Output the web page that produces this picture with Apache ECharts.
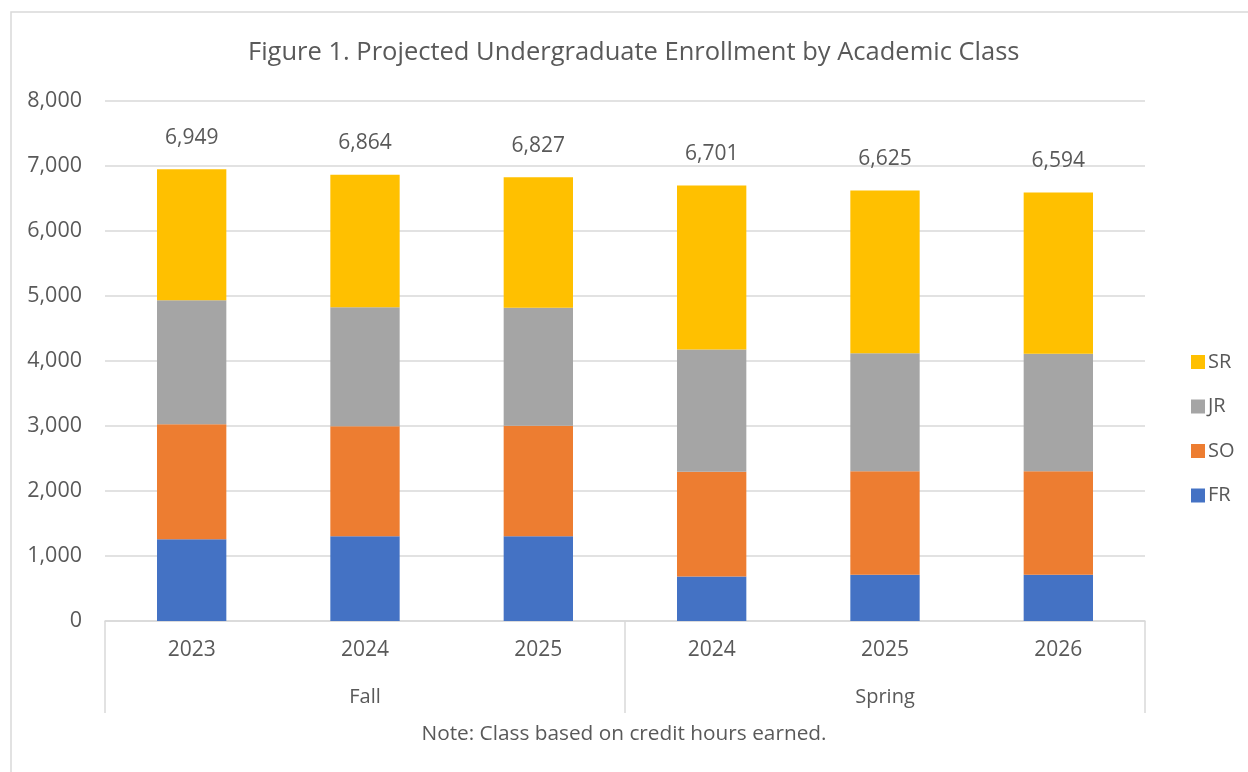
<!DOCTYPE html>
<html>
<head>
<meta charset="utf-8">
<script src="https://cdn.jsdelivr.net/npm/echarts@6/dist/echarts.min.js"></script>
<style>html,body{margin:0;padding:0;background:#fff;}#c{width:1248px;height:772px;}</style>
</head>
<body>
<div id="c"></div>
<script>
const years = ['2023','2024','2025','2024','2025','2026'];
const terms = ['Fall','Spring'];
const FR = [1258,1305,1305,685,710,710];
const SO = [1770,1692,1698,1610,1595,1595];
const JR = [1907,1831,1815,1882,1815,1805];
const SR = [2014,2036,2009,2524,2505,2484];
const totals = [6949,6864,6827,6701,6625,6594];
const yTicks = {min:0, max:8000, interval:1000};

const FONT = 'Open Sans';
const TXT = '#595959';
const GRID = '#d9d9d9';
const chart = echarts.init(document.getElementById('c'), null, {renderer:'canvas'});
const fmt = v => v.toLocaleString('en-US');

function bar(name, data, color, isTop){
  const s = {name, type:'bar', stack:'all', data, barWidth:'40%', xAxisIndex:0,
    itemStyle:{color}, emphasis:{disabled:true}};
  if (isTop){
    s.label = {show:true, position:'top', distance:21, color:TXT, fontFamily:FONT, fontSize:21,
      formatter: p => fmt(totals[p.dataIndex])};
  }
  return s;
}

chart.setOption({
  animation:false,
  textStyle:{fontFamily:FONT},
  title:[
    {text:'Figure 1. Projected Undergraduate Enrollment by Academic Class', left:248, top:40, padding:0,
      textStyle:{color:TXT, fontFamily:FONT, fontSize:25.5, fontWeight:'normal'}},
    {text:'Note: Class based on credit hours earned.', left:'center', top:724, padding:0,
      textStyle:{color:TXT, fontFamily:FONT, fontSize:20.8, fontWeight:'normal'}}
  ],
  graphic:[{type:'rect', shape:{x:11, y:12, width:1400, height:900}, style:{fill:'none', stroke:GRID, lineWidth:1.5}, silent:true}],
  legend:{orient:'vertical', left:1186, top:347, itemWidth:14, itemHeight:14, itemGap:24.5, icon:'rect',
    data:['SR','JR','SO','FR'], textStyle:{color:TXT, fontFamily:FONT, fontSize:20, padding:[0,0,0,-2]}, selectedMode:false},
  grid:{left:105, right:103, top:101, height:520},
  xAxis:[
    {type:'category', data:years, axisLine:{lineStyle:{color:GRID, width:1.5}}, axisTick:{show:false},
      axisLabel:{color:TXT, fontFamily:FONT, fontSize:21, margin:19}},
    {type:'category', data:terms, position:'bottom', offset:92, axisLine:{show:false},
      axisTick:{show:true, inside:true, length:92, interval:0, alignWithLabel:false, lineStyle:{color:GRID, width:1.5}},
      axisLabel:{inside:true, color:TXT, fontFamily:FONT, fontSize:20, margin:6}}
  ],
  yAxis:{type:'value', min:yTicks.min, max:yTicks.max, interval:yTicks.interval,
    axisLine:{show:false}, axisTick:{show:false},
    splitLine:{lineStyle:{color:GRID, width:1.5}},
    axisLabel:{color:TXT, fontFamily:FONT, fontSize:21.5, margin:23, formatter: v => fmt(v)}},
  series:[
    bar('FR', FR, '#4472C4'),
    bar('SO', SO, '#ED7D31'),
    bar('JR', JR, '#A5A5A5'),
    bar('SR', SR, '#FFC000', true)
  ]
});
</script>
</body>
</html>
